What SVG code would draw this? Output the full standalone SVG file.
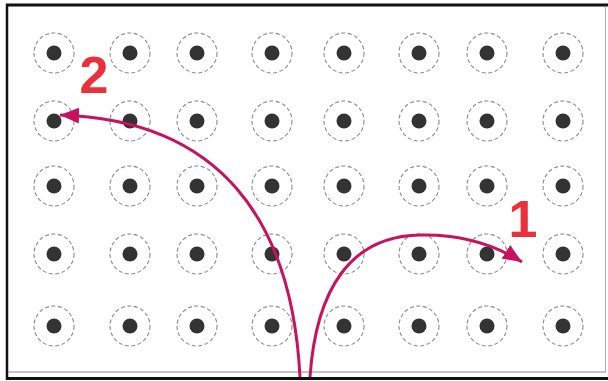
<svg xmlns="http://www.w3.org/2000/svg" width="608" height="381" viewBox="0 0 608 381">
<style>
.ring{fill:none;stroke:#8a8a8a;stroke-width:1.1;stroke-dasharray:4 2.5}
.dot{fill:#333}
.arc{fill:none;stroke:#c8115f;stroke-width:3}
.num{font-family:"Liberation Sans",Arial,sans-serif;font-weight:bold;font-size:52px;fill:#ea3038;text-anchor:middle}
</style>
<defs>
<marker id="ah" markerUnits="userSpaceOnUse" markerWidth="20" markerHeight="16" viewBox="0 0 20 16" refX="19" refY="8" orient="auto">
<path d="M0,0 L19,8 L0,16 Z" fill="#c8115f"/>
</marker>
<g id="nd"><circle class="ring" r="20"/><circle class="dot" r="7.5"/></g>
</defs>
<rect x="0" y="0" width="608" height="381" fill="#fff"/>
<g id="frame">
<line x1="6" y1="5" x2="608" y2="5" stroke="#111" stroke-width="3"/>
<line x1="7" y1="4" x2="7" y2="380" stroke="#111" stroke-width="2.5"/>
<line x1="6" y1="378.5" x2="608" y2="378.5" stroke="#111" stroke-width="3"/>
<line x1="8" y1="372" x2="606" y2="372" stroke="#888" stroke-width="1"/>
<line x1="605.5" y1="6" x2="605.5" y2="372" stroke="#aaa" stroke-width="1"/>
</g>
<g id="nodes">
<g id="n-r1c1"><use href="#nd" x="54" y="53"/></g>
<g id="n-r1c2"><use href="#nd" x="130" y="53"/></g>
<g id="n-r1c3"><use href="#nd" x="197" y="53"/></g>
<g id="n-r1c4"><use href="#nd" x="272" y="53"/></g>
<g id="n-r1c5"><use href="#nd" x="344" y="53"/></g>
<g id="n-r1c6"><use href="#nd" x="419" y="53"/></g>
<g id="n-r1c7"><use href="#nd" x="487" y="53"/></g>
<g id="n-r1c8"><use href="#nd" x="563" y="53"/></g>
<g id="n-r2c1"><use href="#nd" x="54" y="121"/></g>
<g id="n-r2c2"><use href="#nd" x="130" y="121"/></g>
<g id="n-r2c3"><use href="#nd" x="197" y="121"/></g>
<g id="n-r2c4"><use href="#nd" x="272" y="121"/></g>
<g id="n-r2c5"><use href="#nd" x="344" y="121"/></g>
<g id="n-r2c6"><use href="#nd" x="419" y="121"/></g>
<g id="n-r2c7"><use href="#nd" x="487" y="121"/></g>
<g id="n-r2c8"><use href="#nd" x="563" y="121"/></g>
<g id="n-r3c1"><use href="#nd" x="54" y="186"/></g>
<g id="n-r3c2"><use href="#nd" x="130" y="186"/></g>
<g id="n-r3c3"><use href="#nd" x="197" y="186"/></g>
<g id="n-r3c4"><use href="#nd" x="272" y="186"/></g>
<g id="n-r3c5"><use href="#nd" x="344" y="186"/></g>
<g id="n-r3c6"><use href="#nd" x="419" y="186"/></g>
<g id="n-r3c7"><use href="#nd" x="487" y="186"/></g>
<g id="n-r3c8"><use href="#nd" x="563" y="186"/></g>
<g id="n-r4c1"><use href="#nd" x="54" y="254"/></g>
<g id="n-r4c2"><use href="#nd" x="130" y="254"/></g>
<g id="n-r4c3"><use href="#nd" x="197" y="254"/></g>
<g id="n-r4c4"><use href="#nd" x="272" y="254"/></g>
<g id="n-r4c5"><use href="#nd" x="344" y="254"/></g>
<g id="n-r4c6"><use href="#nd" x="419" y="254"/></g>
<g id="n-r4c7"><use href="#nd" x="487" y="254"/></g>
<g id="n-r4c8"><use href="#nd" x="563" y="254"/></g>
<g id="n-r5c1"><use href="#nd" x="54" y="326"/></g>
<g id="n-r5c2"><use href="#nd" x="130" y="326"/></g>
<g id="n-r5c3"><use href="#nd" x="197" y="326"/></g>
<g id="n-r5c4"><use href="#nd" x="272" y="326"/></g>
<g id="n-r5c5"><use href="#nd" x="344" y="326"/></g>
<g id="n-r5c6"><use href="#nd" x="419" y="326"/></g>
<g id="n-r5c7"><use href="#nd" x="487" y="326"/></g>
<g id="n-r5c8"><use href="#nd" x="563" y="326"/></g>
</g>
<g id="connectors">
<path class="arc" d="M300,377 C292,220 220,120 60,115" marker-end="url(#ah)"/>
<path class="arc" d="M310,377 C316,290 350,236 420,235 C460,234 495,245 522,262" marker-end="url(#ah)"/>
</g>
<g id="labels">
<text class="num" x="523" y="237">1</text>
<text class="num" x="94" y="93">2</text>
</g>
</svg>
